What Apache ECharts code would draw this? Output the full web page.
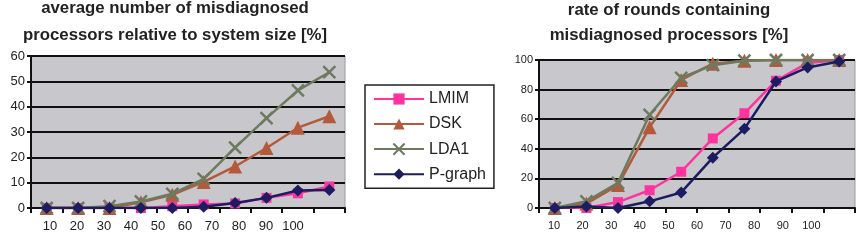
<!DOCTYPE html>
<html>
<head>
<meta charset="utf-8">
<script src="https://cdn.jsdelivr.net/npm/echarts@6/dist/echarts.min.js"></script>
<style>
    body { margin: 0; background: #fff; }
    #chart { width: 858px; height: 242px; }
</style>
</head>
<body>
<div id="chart"></div>
<script>
var sizeLabels = ['10', '20', '30', '40', '50', '60', '70', '80', '90', '100'];

// left: average number of misdiagnosed processors [%]
var avgLMIM = [0, 0, 0, 0, 0.7, 1.4, 1.8, 4, 5.8, 8.5];
var avgDSK = [0, 0, 0, 2.3, 5.2, 10.3, 16.4, 23.7, 31.7, 36.2];
var avgLDA1 = [0, 0, 0.7, 2.6, 5.6, 11.5, 23.8, 35.5, 46.4, 53.6];
var avgPgraph = [0, 0, 0, 0, 0, 0.5, 2, 4, 6.9, 7.1];

// right: rate of rounds containing misdiagnosed processors [%]
var rateLMIM = [0, 0, 4, 12, 24.5, 47, 64, 86, 98, 100];
var rateDSK = [0, 3, 15.5, 54.5, 86.5, 97.5, 99.5, 100, 100, 100];
var rateLDA1 = [0, 4.5, 17, 63, 88, 96.5, 99.5, 100, 100, 100];
var ratePgraph = [0, 1, 0, 4.5, 10.5, 34, 53.5, 85.5, 95, 99];

var seriesNames = ['LMIM', 'DSK', 'LDA1', 'P-graph'];
var colors = ['#ff33a0', '#b45a3c', '#6e7a60', '#1c1c62'];

var font = 'Liberation Sans, Arial, sans-serif';
var crossPath = 'path://M0,0L10,10M10,0L0,10';

function plotGrid(left, top, width, height) {
    return {left: left, top: top, width: width, height: height,
        show: true, backgroundColor: '#c8c8cc', borderColor: '#9a9a9a', borderWidth: 1};
}

function dataXAxis(gridIndex) {
    return {
        type: 'category', gridIndex: gridIndex, data: sizeLabels, boundaryGap: true,
        axisLine: {lineStyle: {color: '#111', width: 2}},
        axisTick: {show: true, inside: false, length: 5, lineStyle: {color: '#111', width: 2}},
        axisLabel: {show: false},
        splitLine: {show: false}
    };
}

// labels sit on their own, narrower axis, like in the original figure
function labelXAxis(gridIndex, fontSize) {
    return {
        type: 'category', gridIndex: gridIndex, data: sizeLabels, boundaryGap: true,
        axisLine: {show: false}, axisTick: {show: false},
        axisLabel: {color: '#222', fontSize: fontSize, fontFamily: font, margin: 12, interval: 0},
        splitLine: {show: false}
    };
}

function valueYAxis(gridIndex, max, interval, fontSize) {
    return {
        type: 'value', gridIndex: gridIndex, min: 0, max: max, interval: interval,
        axisLine: {show: true, lineStyle: {color: '#111', width: 2}},
        axisTick: {show: true, length: 4, lineStyle: {color: '#111', width: 2}},
        axisLabel: {color: '#222', fontSize: fontSize, fontFamily: font, margin: 6},
        splitLine: {show: true, lineStyle: {color: '#111', width: 2}}
    };
}

function lineSeries(name, data, axisIndex, idx) {
    var symbols = ['rect', 'triangle', crossPath, 'diamond'];
    var sizes = [10, 14, 12, 12];
    var s = {
        name: name, type: 'line', data: data,
        xAxisIndex: axisIndex, yAxisIndex: axisIndex,
        symbol: symbols[idx], symbolSize: sizes[idx],
        lineStyle: {color: colors[idx], width: 2.5},
        itemStyle: {color: colors[idx]},
        z: 3 + idx
    };
    if (idx === 2) {
        s.itemStyle = {color: 'none', borderColor: colors[idx], borderWidth: 2.5};
    }
    return s;
}

var myChart = echarts.init(document.getElementById('chart'));
var series = [];
var avgData = [avgLMIM, avgDSK, avgLDA1, avgPgraph];
var rateData = [rateLMIM, rateDSK, rateLDA1, ratePgraph];
for (var i = 0; i < 4; i++) {
    series.push(lineSeries(seriesNames[i], avgData[i], 0, i));
}
for (var j = 0; j < 4; j++) {
    series.push(lineSeries(seriesNames[j], rateData[j], 1, j));
}

var option = {
    animation: false,
    title: [
        {
            text: 'average number of misdiagnosed\nprocessors relative to system size [%]',
            left: 170, top: -10, textAlign: 'center',
            textStyle: {fontSize: 16.8, fontWeight: 'bold', fontFamily: font, color: '#222', lineHeight: 27}
        },
        {
            text: 'rate of rounds containing\nmisdiagnosed processors [%]',
            left: 664, top: -7, textAlign: 'center',
            textStyle: {fontSize: 16.8, fontWeight: 'bold', fontFamily: font, color: '#222', lineHeight: 25}
        }
    ],
    legend: {
        data: seriesNames,
        orient: 'vertical',
        left: 365, top: 85,
        padding: [6, 8, 6, 8],
        itemGap: 9,
        itemWidth: 50, itemHeight: 14,
        backgroundColor: '#fff',
        borderColor: '#222', borderWidth: 1.5,
        textStyle: {fontSize: 16, fontFamily: font, color: '#222'}
    },
    grid: [
        plotGrid(31, 56, 314, 152),
        plotGrid(539, 60, 316, 148),
        {left: 36.5, top: 56, width: 270, height: 152},
        {left: 539.7, top: 60, width: 286, height: 148}
    ],
    xAxis: [
        dataXAxis(0),
        dataXAxis(1),
        labelXAxis(2, 13),
        labelXAxis(3, 11)
    ],
    yAxis: [
        valueYAxis(0, 60, 10, 13),
        valueYAxis(1, 100, 20, 11),
        {type: 'value', gridIndex: 2, show: false},
        {type: 'value', gridIndex: 3, show: false}
    ],
    series: series
};

myChart.setOption(option);
</script>
</body>
</html>
